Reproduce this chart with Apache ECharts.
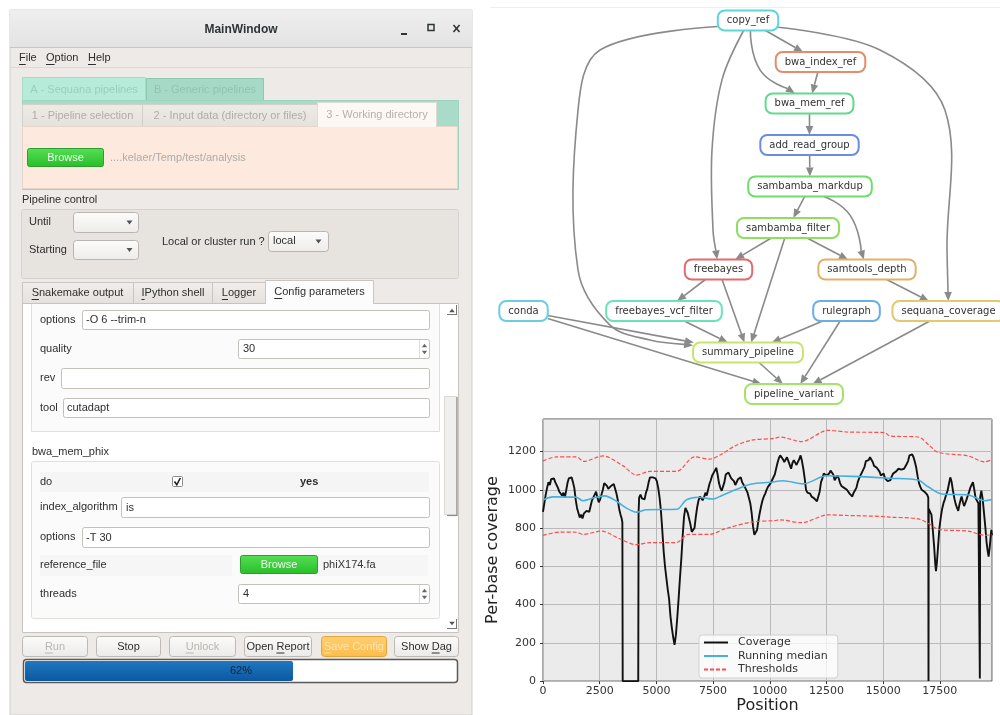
<!DOCTYPE html>
<html><head><meta charset="utf-8">
<script src="https://cdn.jsdelivr.net/npm/echarts@6/dist/echarts.min.js"></script>
<style>html,body{margin:0;padding:0;background:#fff}#c{width:1000px;height:715px}</style>
</head><body><div id="c"></div><script>
// ---------------- coverage data ----------------
const covPos = [0,60,120,180,240,300,360,420,480,540,600,660,720,780,840,900,960,1020,1080,1140,1200,1260,1320,1380,1440,1500,1560,1620,1680,1740,1800,1860,1920,1980,2040,2100,2160,2220,2280,2340,2400,2460,2520,2580,2640,2700,2760,2820,2880,2940,3000,3060,3120,3180,3240,3300,3360,3420,3470,3500,3515,
4200,4215,4240,4300,4360,4420,4480,4540,4600,4660,4720,4780,4840,4900,4960,5020,5080,5140,5200,5260,5320,5380,5440,5500,5560,5620,5680,5740,5800,5860,5920,5980,6040,6100,6160,6220,6280,6330,6380,6440,6500,6560,6620,6680,6740,6800,6860,6920,6980,7040,7100,7160,7220,7280,7340,7400,7460,7520,7580,7640,7700,7760,7820,7880,7940,8000,8060,8120,8180,8240,8300,8360,8420,8480,8540,8600,8660,8720,8780,8840,8900,8960,9020,9080,9140,9200,9260,9320,9380,9440,9500,9560,9620,9680,9740,9800,9860,9920,9980,
10040,10100,10160,10220,10280,10340,10400,10460,10520,10580,10640,10700,10760,10820,10880,10940,11000,11060,11120,11180,11240,11300,11360,11420,11480,11540,11600,11660,11720,11780,11840,11900,11960,12020,12080,12140,12200,12260,12320,12380,12440,12500,12560,12620,12680,12740,12800,12860,12920,12980,13040,13100,13160,13220,13280,13340,13400,13460,13520,13580,13640,13700,13760,13820,13880,13940,14000,14060,14120,14180,14240,14300,14360,14420,14480,14540,14600,14660,14720,14780,14840,14900,14960,15020,15080,15140,15200,15260,15320,15380,15440,15500,15560,15620,15680,15740,15800,15860,15920,15980,16040,16100,16160,16220,16280,16340,16400,16460,16520,16580,16640,16700,16760,16820,16880,16940,16990,17000,17010,17060,17130,17190,17250,17300,17330,17370,17420,17480,17540,17600,17660,17720,17780,17840,17900,17960,18020,18080,18140,18200,18260,18310,18360,18420,18460,18520,18570,18620,18680,18720,18780,18840,18900,18960,19020,19080,19140,19200,19250,19264,19278,19330,19390,19450,19510,19560,19610,19650,19690,19730,19770,19800];
const covVal = [885,930,975,1010,1040,1025,1055,1045,1060,1040,1050,1010,990,1000,970,985,960,995,1035,1060,1050,1065,1040,1010,950,905,880,855,870,850,875,865,890,900,885,915,945,955,975,990,960,935,950,975,1000,1035,1040,1020,1005,1000,1020,1010,1030,1005,980,945,900,870,850,830,0,
0,880,960,975,955,965,950,985,1005,1040,1065,1075,1065,1075,1060,1045,1010,960,890,790,680,600,540,480,430,340,280,230,190,240,330,430,540,640,760,860,905,915,880,850,820,780,770,800,860,910,945,965,955,945,960,985,970,1000,1030,1050,1075,1085,1100,1115,1080,1035,1010,995,990,1040,1080,1070,1090,1085,1060,1050,1045,1025,1030,1055,1045,1065,1040,1030,1015,1000,985,975,930,880,810,765,770,790,840,880,915,945,965,980,1000,1015,1020,
1035,1050,1060,1080,1110,1140,1165,1180,1190,1160,1145,1150,1170,1160,1130,1110,1140,1155,1150,1130,1135,1160,1180,1150,1110,1060,1000,985,975,980,965,960,955,945,940,935,990,1040,1060,1085,1095,1075,1065,1085,1100,1105,1080,1050,1060,1075,1060,1035,1020,1025,1010,1005,1000,990,980,970,965,985,995,1010,1040,1060,1075,1090,1095,1120,1150,1160,1155,1170,1165,1145,1125,1130,1115,1120,1095,1075,1080,1085,1060,1050,1045,1040,1050,1070,1085,1080,1095,1105,1110,1100,1105,1095,1110,1120,1135,1150,1180,1190,1185,1170,1145,1115,1070,1035,1015,1000,995,990,985,975,960,0,900,890,870,790,700,610,575,620,700,800,855,900,930,950,975,995,1030,1065,1040,995,955,925,905,890,920,950,965,935,915,930,950,965,985,1010,1025,1040,1000,955,945,930,925,14,960,995,950,875,800,727,680,651,690,740,790,762];
const medPos = [0,440,1470,1765,2200,2720,3240,3680,4120,4560,5900,6320,6840,7500,7870,8460,9190,10000,10590,11470,12500,13680,15300,16540,16980,17580,18750,19480,19800];
const medVal = [947,963,961,943,957,968,940,904,883,896,898,947,961,952,969,999,1030,1039,1047,1031,1073,1070,1060,1051,1016,978,973,943,949];
const upPos = [0,590,1470,1800,2650,3530,4120,4710,5880,6690,7350,7870,8460,9190,10220,10440,11400,12570,13400,15070,15300,16540,17060,17430,18750,19480,19800];
const upVal = [1151,1172,1172,1148,1177,1125,1077,1096,1096,1172,1160,1186,1229,1259,1269,1276,1252,1311,1302,1299,1281,1276,1229,1195,1177,1146,1157];
const lowPos = [0,735,1470,1765,2580,3380,4120,4710,5880,6400,7350,8020,9190,10220,10440,11400,12570,13400,15070,15300,16540,17060,17430,18750,19480,19800];
const lowVal = [762,779,778,767,784,744,713,724,724,767,767,796,831,839,843,828,869,866,860,857,848,820,793,784,762,765];
const xTickStep = 2500;
const yTickStep = 200;

// ---------------- rule graph (DAG) ----------------
const dagNodes = ['copy_ref','bwa_index_ref','bwa_mem_ref','add_read_group','sambamba_markdup','sambamba_filter','freebayes','samtools_depth','conda','freebayes_vcf_filter','rulegraph','sequana_coverage','summary_pipeline','pipeline_variant'];
const dagRank = [0,1,2,3,4,5,6,6,7,7,7,7,8,9];
const dagCol = [258,330.5,319.5,319.5,320,298,228.5,377,33.5,174,356.5,458.5,258,304];
const dagEdges = [
 ['copy_ref','bwa_index_ref'],['copy_ref','bwa_mem_ref'],['bwa_index_ref','bwa_mem_ref'],['bwa_mem_ref','add_read_group'],
 ['add_read_group','sambamba_markdup'],['sambamba_markdup','sambamba_filter'],['sambamba_markdup','samtools_depth'],
 ['sambamba_filter','freebayes'],['sambamba_filter','samtools_depth'],['sambamba_filter','summary_pipeline'],
 ['copy_ref','freebayes'],['copy_ref','summary_pipeline'],['copy_ref','sequana_coverage'],
 ['freebayes','freebayes_vcf_filter'],['freebayes','summary_pipeline'],['samtools_depth','sequana_coverage'],
 ['conda','summary_pipeline'],['conda','pipeline_variant'],['freebayes_vcf_filter','summary_pipeline'],
 ['rulegraph','summary_pipeline'],['rulegraph','pipeline_variant'],['summary_pipeline','pipeline_variant'],
 ['sequana_coverage','pipeline_variant']];
const dagRoutes = {
 'copy_ref>summary_pipeline': [[110,0.71],[88,2.16],[88,6.01],[120,7.34],[160,7.7]],
 'copy_ref>sequana_coverage': [[390,0.71],[455,2.16],[457,5.53]],
 'copy_ref>freebayes': [[232,1.43],[222,3.12],[223,5.05]],
 'copy_ref>bwa_mem_ref': [[270,1.19]],
 'sambamba_markdup>samtools_depth': [[360,4.69]]
};
const dagColor = ['#5cd6d6','#e38d6b','#62da8c','#6a8de3','#6ddd6d','#8ede62','#e36b6b','#e3b06b','#6bcde3','#6be3b8','#6baee3','#e3c96b','#c9e36b','#a4e36b'];

// ---------------- helpers ----------------
const meas = document.createElement('canvas').getContext('2d');
function tw(s, font){ meas.font = font; return meas.measureText(s).width; }
const UI = '"Liberation Sans", Arial, sans-serif';
function fnt(size, weight){ return (weight||'normal') + ' ' + size + 'px ' + UI; }
const DAGFONT = '10px "DejaVu Sans", sans-serif';
function halfSize(i){ return [tw(dagNodes[i], DAGFONT)/2 + 9, 10]; }
function clip(c, hs, p){
  const dx = p[0]-c[0], dy = p[1]-c[1];
  const t = Math.min(dx ? hs[0]/Math.abs(dx) : Infinity, dy ? hs[1]/Math.abs(dy) : Infinity);
  return [c[0]+dx*t, c[1]+dy*t];
}

// ---------------- GUI drawing (graphic elements) ----------------
const G = [];
const FS = 11;
function grad(c1, c2){ return new echarts.graphic.LinearGradient(0,0,0,1,[{offset:0,color:c1},{offset:1,color:c2}]); }
function R(x,y,w,h,fill,stroke,r,lw){ G.push({type:'rect', shape:{x:x,y:y,width:w,height:h,r:r||0}, style:{fill:fill||'none', stroke:stroke||'none', lineWidth:lw||1}}); }
function L(x1,y1,x2,y2,c,lw){ G.push({type:'line', shape:{x1:x1,y1:y1,x2:x2,y2:y2}, style:{stroke:c, lineWidth:lw||1}}); }
function T(x,y,s,o){ o=o||{}; G.push({type:'text', x:x, y:y, style:{text:s, fill:o.c||'#2e2e2e', font:fnt(o.s||FS,o.w), align:o.a||'left', verticalAlign:'middle'}}); }
function U(x,y,s,idx,o){ // underline one mnemonic letter
  if (idx < 0) return;
  o=o||{}; const f = fnt(o.s||FS,o.w); const full = tw(s,f);
  const x0 = o.a==='center' ? x-full/2 : x;
  const pre = tw(s.slice(0,idx), f), cw = tw(s[idx], f);
  L(x0+pre, y+6.5, x0+pre+cw, y+6.5, o.c||'#2e2e2e', 1);
}
function TU(x,y,s,idx,o){ T(x,y,s,o); U(x,y,s,idx,o); }
function tri(cx,cy,up,c,s){ s=s||3; G.push({type:'polygon', shape:{points: up? [[cx-s,cy+s/1.5],[cx+s,cy+s/1.5],[cx,cy-s/1.5]] : [[cx-s,cy-s/1.5],[cx+s,cy-s/1.5],[cx,cy+s/1.5]]}, style:{fill:c||'#444'}}); }

// window
R(10,10,462,705,'#edeae7','#d3cfca');
R(10,10,462,37,grad('#efefef','#e3e3e3'));
L(10,47.5,472,47.5,'#c6c6c6');
T(241,30,'MainWindow',{w:'bold',s:12,a:'center',c:'#2e3436'});
L(401,34,407,34,'#2e3436',2);
R(428,24.5,6,6,'none','#2e3436',0,1.5);
L(453.5,25,459.5,32,'#2e3436',1.6); L(459.5,25,453.5,32,'#2e3436',1.6);
// menu
TU(19,58,'File',0); TU(46,58,'Option',0); TU(88,58,'Help',0);
L(10,67.5,472,67.5,'#dcd8d3');
// top tab widget
R(22.5,77.5,123,23,'#b6ebd9','#a3dcc8');
T(84,89.5,'A - Sequana pipelines',{a:'center',c:'#9dcdbd'});
R(146.5,78.5,117,22,'#a7dac6','#8fc7b2');
T(205,90,'B - Generic pipelines',{a:'center',c:'#93c3b2'});
R(22.5,100.5,436,89,'#a9dcc8','#9bd5c0');
R(22.5,104.5,120,22,grad('#eeebe7','#e5e1dd'),'#d4cfca');
T(82.5,115.5,'1 - Pipeline selection',{a:'center',c:'#b1aca7'});
R(142.5,104.5,175,22,grad('#eeebe7','#e5e1dd'),'#d4cfca');
T(230,115.5,'2 - Input data (directory or files)',{a:'center',c:'#b1aca7'});
R(317.5,102.5,119,24,'#fdf8f4','#e0dbd6');
T(377,114.5,'3 - Working directory',{a:'center',c:'#b6b1ac'});
R(22.5,126.5,435,62,'#fde9dd','#e6d5ca');
L(318,126.5,436,126.5,'#fdf8f4');
R(27.5,148.5,76,18,grad('#55e055','#28bd28'),'#2d9e2d',2);
T(65.5,157.5,'Browse',{a:'center',c:'#f0fbf0'});
T(110,157.5,'....kelaer/Temp/test/analysis',{c:'#acacac'});
// pipeline control
T(22,200,'Pipeline control');
R(21.5,209.5,437,69,'#e7e4e0','#d6d2cd',2);
T(29,222,'Until');
R(73.5,212.5,65,20,grad('#fcfcfb','#eeece9'),'#b9b5b0',3);
tri(129.5,222.5,false,'#555',3);
T(29,249.5,'Starting');
R(73.5,240.5,65,19,grad('#fcfcfb','#eeece9'),'#b9b5b0',3);
tri(129.5,250,false,'#555',3);
T(162,242,'Local or cluster run ?');
R(268.5,231.5,60,20,grad('#fcfcfb','#eeece9'),'#b9b5b0',3);
T(273,241,'local');
tri(318.5,241.5,false,'#555',3);
// bottom tabs
R(22.5,282.5,111,21,grad('#f1eeeb','#e4e1dd'),'#cac5c0');
TU(77.5,293,'Snakemake output',0,{a:'center'});
R(133.5,282.5,79,21,grad('#f1eeeb','#e4e1dd'),'#cac5c0');
TU(173,293,'IPython shell',0,{a:'center'});
R(212.5,282.5,53,21,grad('#f1eeeb','#e4e1dd'),'#cac5c0');
TU(239,293,'Logger',0,{a:'center'});
R(22.5,303.5,436,329,'#ffffff','#c8c3be');
R(265.5,280.5,108,23,'#fcfcfc','#cac5c0');
L(266,303.5,373,303.5,'#fcfcfc');
TU(319.5,292,'Config parameters',0,{a:'center'});
// group 1 (top part scrolled off)
R(31.5,304,408,127.5,'#fbfbfb','none');
L(31.5,304,31.5,431.5,'#e2dfdb'); L(439.5,304,439.5,431.5,'#e2dfdb'); L(31.5,431.5,439.5,431.5,'#e2dfdb');
T(40,320,'options');
R(82.5,310.5,347,19,'#fff','#c4c0bb',2); T(86,320,'-O 6 --trim-n');
T(40,349,'quality');
R(238.5,339.5,191,19,'#fff','#c4c0bb',2); T(243,349,'30'); L(419.5,340,419.5,358,'#dedad6');
tri(424.5,345.5,true,'#666',2.6); tri(424.5,352.5,false,'#666',2.6);
T(40,378,'rev');
R(61.5,368.5,368,20,'#fff','#c4c0bb',2);
T(40,408,'tool');
R(63.5,398.5,366,19,'#fff','#c4c0bb',2); T(67,408,'cutadapt');
// group 2
T(32,452,'bwa_mem_phix');
R(31.5,461.5,408,157,'#fbfbfb','#e2dfdb',2);
R(40,472,389,20,'#f5f5f5');
T(40,482,'do');
R(172.5,476.5,10,10,'#fff','#8c8c8c',1);
G.push({type:'polyline', shape:{points:[[174.5,481.5],[176.8,484.8],[180.3,478]]}, style:{stroke:'#222',lineWidth:1.6,fill:'none'}});
T(300,482,'yes',{w:'bold'});
T(40,507,'index_algorithm');
R(121.5,497.5,308,20,'#fff','#c4c0bb',2); T(126,507.5,'is');
T(40,537,'options');
R(82.5,527.5,347,20,'#fff','#c4c0bb',2); T(86,537.5,'-T 30');
R(40,555,192,21,'#f6f6f6'); R(318,555,110,21,'#f6f6f6');
T(40,565,'reference_file');
R(240.5,555.5,77,18,grad('#55e055','#28bd28'),'#2d9e2d',2);
T(279,564.5,'Browse',{a:'center',c:'#f0fbf0'});
T(323,565,'phiX174.fa',{c:'#333'});
T(40,593.5,'threads');
R(238.5,584.5,191,19,'#fff','#c4c0bb',2); T(243,594,'4'); L(419.5,585,419.5,603,'#dedad6');
tri(424.5,590.5,true,'#666',2.6); tri(424.5,597.5,false,'#666',2.6);
// scrollbar
tri(452,310.5,true,'#555',2.8); L(447,314.5,457,314.5,'#777'); L(456.5,305,456.5,314.5,'#777');
R(444.5,396.5,12,118,'#f1efed','#dcd8d4');
L(457,397,457,515.5,'#8a8a8a',1.2); L(447,515.5,457.5,515.5,'#8a8a8a',1.2);
tri(452,623.5,false,'#555',2.8); L(447,628.5,457,628.5,'#777'); L(456.5,619,456.5,628.5,'#777');
// buttons
function B(x,w,label,idx,o){ o=o||{}; R(x,636.5,w,20,o.fill||grad('#fbfbfa','#eceae7'),o.stroke||'#bdb9b4',3); TU(x+w/2,646.5,label,idx,{a:'center',c:o.c||'#2e2e2e'}); }
B(22.5,65,'Run',0,{c:'#bab6b2'});
B(96.5,64,'Stop',-1);
B(169.5,66,'Unlock',0,{c:'#bab6b2'});
B(244.5,67,'Open Report',5);
B(321.5,65,'Save Config',0,{fill:grad('#ffcf70','#fbbd4c'),stroke:'#e6a63e',c:'#fde3b2'});
B(394.5,64,'Show Dag',5);
// progress bar
R(23.5,659.5,434,23,'#ffffff','#5a5a5a',3,1.5);
R(25,661,268,20,grad('#1f77c2','#0c58a0'),'none',2);
T(241,671,'62%',{a:'center',c:'#1a2430'});
// faint line above the DAG
L(490,7.5,1000,7.5,'#eeeeee');

// ---------------- chart ----------------
const chart = echarts.init(document.getElementById('c'));
const plain = v => String(v);
const option = {
  animation: false,
  backgroundColor: '#ffffff',
  graphic: { elements: G },
  grid: [
    {left:543, top:419, width:449, height:264, show:true, backgroundColor:'#ebebeb', borderColor:'#555', borderWidth:1},
    {left:490, top:20.5, width:510, height:373.5, show:false}
  ],
  xAxis: [
    {gridIndex:0, type:'value', min:0, max:19800, interval:xTickStep,
     name:'Position', nameLocation:'middle', nameGap:16,
     nameTextStyle:{fontSize:16, fontFamily:'DejaVu Sans', color:'#222'},
     axisLine:{show:false}, axisTick:{show:true, length:3, lineStyle:{color:'#333'}},
     axisLabel:{fontSize:11, color:'#333', fontFamily:'DejaVu Sans', margin:5, showMaxLabel:false, formatter:plain},
     splitLine:{show:true, lineStyle:{color:'#b9b9b9', width:1}}},
    {gridIndex:1, type:'value', min:0, max:510, show:false}
  ],
  yAxis: [
    {gridIndex:0, type:'value', min:0, max:1370, interval:yTickStep,
     name:'Per-base coverage', nameLocation:'middle', nameGap:42, nameRotate:90,
     nameTextStyle:{fontSize:16, fontFamily:'DejaVu Sans', color:'#222'},
     axisLine:{show:false}, axisTick:{show:true, length:3, lineStyle:{color:'#333'}},
     axisLabel:{fontSize:11, color:'#333', fontFamily:'DejaVu Sans', margin:7, showMaxLabel:false, formatter:plain},
     splitLine:{show:true, lineStyle:{color:'#b9b9b9', width:1}}},
    {gridIndex:1, type:'value', min:0, max:9, inverse:true, show:false}
  ],
  legend: {
    left:699, top:635, orient:'vertical', itemGap:2.5, itemWidth:24, itemHeight:11,
    padding:[2,10,3,4], backgroundColor:'rgba(255,255,255,0.75)', borderColor:'#d0d0d0', borderWidth:1, borderRadius:3,
    textStyle:{fontSize:11, fontFamily:'DejaVu Sans', color:'#333', lineHeight:11, padding:[0,0,0,5]},
    itemStyle:{opacity:0},
    data:['Coverage','Running median','Thresholds']
  },
  series: [
    {name:'Coverage', type:'line', xAxisIndex:0, yAxisIndex:0, data: covPos.map((p,i)=>[p,covVal[i]]),
     symbol:'none', sampling:null, lineStyle:{color:'#111', width:1.9}, itemStyle:{color:'#111'}},
    {name:'Running median', type:'line', xAxisIndex:0, yAxisIndex:0, data: medPos.map((p,i)=>[p,medVal[i]]),
     symbol:'none', smooth:0.3, lineStyle:{color:'#44b0df', width:1.6}, itemStyle:{color:'#44b0df'}},
    {name:'Thresholds', type:'line', xAxisIndex:0, yAxisIndex:0, data: upPos.map((p,i)=>[p,upVal[i]]),
     symbol:'none', smooth:0.3, lineStyle:{color:'#ff4d4d', width:1.2, type:[4,2]}, itemStyle:{color:'#ff4d4d'}},
    {name:'Thresholds', type:'line', xAxisIndex:0, yAxisIndex:0, data: lowPos.map((p,i)=>[p,lowVal[i]]),
     symbol:'none', smooth:0.3, lineStyle:{color:'#ff4d4d', width:1.2, type:[4,2]}, itemStyle:{color:'#ff4d4d'}},
    {type:'custom', name:'dag-edges', coordinateSystem:'cartesian2d', xAxisIndex:1, yAxisIndex:1, silent:true,
     encode:{x:0, y:1},
     data: dagEdges.map((e,i)=>{const s=dagNodes.indexOf(e[0]); return [dagCol[s], dagRank[s], i];}),
     renderItem: function(params, api){
       const e = dagEdges[api.value(2)];
       const si = dagNodes.indexOf(e[0]), ti = dagNodes.indexOf(e[1]);
       const S = api.coord([dagCol[si], dagRank[si]]), Tt = api.coord([dagCol[ti], dagRank[ti]]);
       const route = (dagRoutes[e[0]+'>'+e[1]]||[]).map(p=>api.coord(p));
       const first = route.length ? route[0] : Tt, last = route.length ? route[route.length-1] : S;
       const a = clip(S, halfSize(si), first), b = clip(Tt, halfSize(ti), last);
       let dx = b[0]-last[0], dy = b[1]-last[1]; const len = Math.hypot(dx,dy); dx/=len; dy/=len;
       const AL = 9, AW = 3.8;
       const base = [b[0]-dx*AL, b[1]-dy*AL];
       const pts = [a].concat(route, [base]);
       return {type:'group', children:[
         {type:'polyline', shape:{points:pts, smooth: route.length>1 ? 0.35 : (route.length ? 0.5 : 0)}, style:{stroke:'#8a8a8a', lineWidth:1.6, fill:null}},
         {type:'polygon', shape:{points:[b,[base[0]-dy*AW, base[1]+dx*AW],[base[0]+dy*AW, base[1]-dx*AW]]}, style:{fill:'#8a8a8a'}}
       ]};
     }},
    {type:'custom', name:'dag-nodes', coordinateSystem:'cartesian2d', xAxisIndex:1, yAxisIndex:1, silent:true,
     encode:{x:0, y:1},
     data: dagNodes.map((n,i)=>[dagCol[i], dagRank[i], i]),
     renderItem: function(params, api){
       const i = api.value(2);
       const p = api.coord([api.value(0), api.value(1)]);
       const hs = halfSize(i);
       return {type:'group', children:[
         {type:'rect', shape:{x:p[0]-hs[0], y:p[1]-hs[1], width:hs[0]*2, height:hs[1]*2, r:7}, style:{fill:'#fff', stroke:dagColor[i], lineWidth:2}},
         {type:'text', x:p[0], y:p[1], style:{text:dagNodes[i], fill:'#333', font:DAGFONT, align:'center', verticalAlign:'middle'}}
       ]};
     }}
  ]
};
chart.setOption(option);
</script></body></html>
